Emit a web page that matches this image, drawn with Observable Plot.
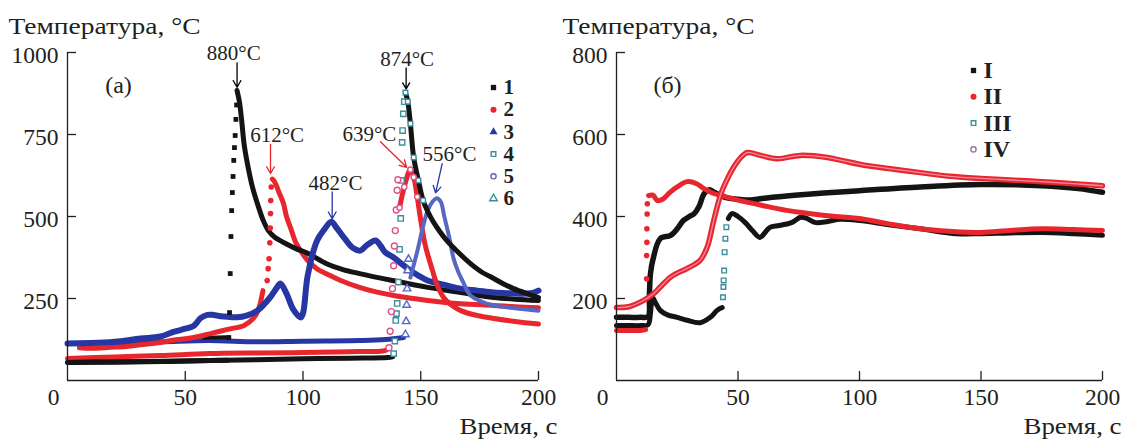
<!DOCTYPE html>
<html><head><meta charset="utf-8">
<script src="https://cdn.jsdelivr.net/npm/d3@7"></script>
<script src="https://cdn.jsdelivr.net/npm/@observablehq/plot@0.6"></script>
<style>
body{margin:0;background:#fff;}
#wrap{display:flex;width:1123px;height:440px;overflow:hidden;}
svg{display:block;}
</style></head><body><div id="wrap"></div>
<script>
// ---------- Panel (а): time (s), temperature (°C) ----------
const a1Base = [[0,55],[20,56],[40,58],[57,60],[68,62]];
const a1Pre = [[58,130],[68,132]];
const a1Jump = [[68.5,131],[68.8,207],[69.1,326],[69.4,439],[69.7,518],[70,573],[70.3,622],[70.6,671],[70.9,710],[71.2,747],[71.5,796],[71.8,840]];
const a1Fall = [[72,884],[73,850],[74,790],[75,720],[76.4,661],[78.6,588],[81.2,527],[83,490],[85.3,457],[88,437],[92,420],[97,402],[102,388],[110,356],[117,338],[124,326],[138,305],[153,284],[167,268],[181,253],[190,248],[200,244]];

const a2Rise = [[5,100],[10,98],[18,101],[25,104],[32,110],[39.5,116],[46,124],[53.5,131],[60.7,143],[68,156],[75,168],[79,190],[81,215],[83,274]];
const a2Jump = [[84.8,305],[85.2,341],[85.6,371],[85.9,420],[86.1,465],[86.2,509],[86.3,549],[86.5,590]];
const a2Fall = [[87,614],[88,605],[90,570],[91.7,540],[93,500],[94.7,466],[97,420],[100,385],[102,366],[106,340],[111,322],[116,305],[124,284],[131,270],[138.5,259],[146,251],[153,244],[167,234],[181,229],[190,225],[200,222]];

const a3 = [[0,113],[10,114],[20,118],[31,128],[39.5,134],[45,148],[50,158],[53.5,166],[56.5,190],[59.4,200],[62,200],[65,196],[68,194],[72,193],[76,198],[80.6,213],[86,253],[89,284],[90.4,296],[93,265],[96,215],[99,192],[100,205],[102,320],[106,427],[109,460],[112,484],[114.6,462],[118,430],[121,405],[124.4,396],[127,412],[130.8,427],[133,410],[135,390],[138.5,375],[142,355],[145.6,335],[149,320],[152.9,305],[161,290],[167,280],[174,274],[181,268],[188,266],[195,265],[198,268],[200,274]];

const a4Base = [[0,55],[20,57],[40,59],[60,61],[80,63],[100,66],[120,68],[136,70],[138,72]];
const a4Jump = [[138.5,82],[139,120],[139.4,183],[139.7,204],[140,235],[140.5,300],[141,400],[141.5,494],[141.8,610],[142.1,726],[142.3,762],[142.6,813],[143,850]];
const a4Fall = [[143.5,878],[144.5,850],[145.6,783],[147,680],[149,610],[151,549],[153,515],[155,488],[158,455],[161,427],[166,390],[171,357],[176,330],[181,311],[185,295],[189.4,280],[195,265],[200,253]];

const a5Base = [[0,67],[20,72],[39.5,76],[60,82],[80,84],[100,85],[120,88],[134,90],[136,95]];
const a5Jump = [[136.5,100],[137,150],[137.5,210],[138,280],[138.5,350],[138.8,410],[139.2,457],[139.6,520],[140,580],[140.3,612]];
const a5Fall = [[141,527],[143,590],[145.6,643],[147,620],[148.5,560],[150,488],[152,410],[155,335],[157,290],[159.7,253],[163,230],[167,213],[174,198],[181,189],[190,180],[200,172]];

const a6Base = [[0,113],[20,115],[40,118],[60,122],[80,118],[100,120],[124,122],[135,125],[142.7,131]];
const a6Jump = [[143.5,140],[143.8,180],[144,230],[144.2,280],[144.4,335],[144.8,370]];
const a6Fall = [[145.6,314],[148.6,396],[151,470],[153,520],[155,545],[156.8,556],[158.5,545],[160,500],[162,440],[164,370],[166,330],[168,300],[171,260],[176,240],[181,229],[190,220],[200,213]];

// ---------- Panel (б) ----------
const b1 = [[0,154],[5,154],[10,154],[13,156],[13.5,205],[14,262],[15,295],[18,346],[22.3,354],[25,370],[27.5,390],[30,400],[31.8,406],[34,425],[36,455],[38,465],[40,460],[45,446],[50,442],[55,440],[60,444],[70,450],[80,455],[92,460],[100,463],[125,472],[150,478],[175,475],[190,468],[200,459]];
const b2Base = [[0,122],[5,122],[10,122],[12,124]];
const b2Jump = [[12.4,248],[12.4,305],[12.5,337],[12.5,370],[12.6,406],[12.7,431]];
const b2 = [[13.2,451],[15,452],[16.8,439],[19,442],[22,459],[25,472],[29,485],[33,480],[36,468],[40,456],[45,448],[50,440],[60,427],[70,415],[80,407],[90,400],[100,395],[112,382],[125,370],[137,364],[150,361],[162,366],[175,370],[188,368],[200,366]];
const b3 = [[0,134],[5,134],[10,134],[13,136],[14,165],[14.8,203],[16,190],[18,171],[21,160],[25,154],[29,147],[34.4,141],[38.6,154],[41.4,171],[43.5,178]];
const b3Jump = [[43.8,203],[44,228],[44.1,244],[44.3,268],[44.5,313],[44.8,346],[45.2,374]];
const b3Tail = [[46,395],[47.6,407],[50,400],[53,385],[56,365],[59,349],[61,360],[63,373],[67,378],[72,385],[75.7,398],[78,396],[82,385],[87,388],[92,393],[100,390],[112,380],[125,370],[140,358],[150,358],[162,360],[175,361],[188,358],[200,354]];
const b4 = [[0,178],[5,180],[11,195],[15.3,212],[18,228],[22,251],[25,262],[29,273],[34.4,293],[37.3,325],[40,390],[43,456],[45.5,490],[48.2,520],[51,543],[53.9,556],[59.3,549],[66,541],[75.7,549],[86.8,544],[92.5,537],[100.4,527],[112,517],[125,507],[137,498],[150,493],[162,489],[175,485],[188,480],[200,475]];

// ---------- Annotations, legends, ticks, texts ----------
const peaksA = [
  {label:"880°C", lx:70.6, ly:977, x1:72, y1:968, x2:72, y2:894, color:"#000"},
  {label:"612°C", lx:89, ly:726, x1:86.2, y1:720, x2:86.2, y2:631, color:"#e8262d"},
  {label:"482°C", lx:113.8, ly:581, x1:112.4, y1:575, x2:112.4, y2:493, color:"#2636a3"},
  {label:"639°C", lx:128.2, ly:729, x1:132.9, y1:728, x2:144, y2:650, color:"#e8262d"},
  {label:"556°C", lx:162.2, ly:668, x1:159.1, y1:661, x2:156.3, y2:572, color:"#2636a3"},
  {label:"874°C", lx:144.2, ly:960, x1:143.8, y1:953, x2:143.8, y2:889, color:"#000"}
];
const legendA = ["1","2","3","4","5","6"];
const legendB = ["I","II","III","IV"];
const xTicks = [50,100,150,200];
const yTicksA = [250,500,750,1000];
const yTicksB = [200,400,600,800];
const yTitle = "Температура, °C";
const xTitle = "Время, с";
const panelA = "(а)", panelB = "(б)";

const C = {black:"#141414", red:"#e8262d", blue:"#2636a3", teal:"#3d8f9c", pink:"#e2508c", lblue:"#5668c4", ink:"#231f20", purple:"#a070b0"};
const FONT = "Liberation Serif, Times New Roman, serif";
const fmt = d => String(d);
const rows = arr => arr.map(([t, v]) => ({t, v}));
const L = (data, stroke, w = 5, extra = {}) => Plot.line(rows(data), {x:"t", y:"v", stroke, strokeWidth:w, strokeLinejoin:"round", strokeLinecap:"round", curve:"catmull-rom", ...extra});
const D = (data, symbol, opts) => Plot.dot(rows(data), {x:"t", y:"v", symbol, ...opts});

function frameMarks({yTicks, plotW, plotH, legend, legendStyle, legendDx, legendDy0, legendStep, legendFont, title, panel, titleDx}) {
  return [
    Plot.ruleX([0], {stroke:C.ink, strokeWidth:1.3}),
    Plot.ruleY([0], {stroke:C.ink, strokeWidth:1.3}),
    Plot.tickY(yTicks, {y:d=>d, insetRight:plotW - 9, stroke:C.ink, strokeWidth:1.3}),
    Plot.tickX(xTicks, {x:d=>d, insetTop:plotH - 9, stroke:C.ink, strokeWidth:1.3}),
    Plot.axisY({ticks:yTicks, tickFormat:fmt, tickSize:0, tickPadding:9, label:null, fontSize:23.5, dy:2.5, fill:C.ink}),
    Plot.axisX({ticks:xTicks, tickFormat:fmt, tickSize:0, tickPadding:8, label:null, fontSize:23.5, fill:C.ink}),
    Plot.axisX({ticks:[0], tickFormat:fmt, tickSize:0, tickPadding:8, label:null, fontSize:23.5, dx:-14, fill:C.ink}),
    Plot.text([title], {text:d=>d, frameAnchor:"top-left", dx:titleDx, dy:-19, textAnchor:"start", lineAnchor:"bottom", fontSize:23, fill:C.ink, className:"ytitle"}),
    Plot.text([xTitle], {text:d=>d, frameAnchor:"bottom-right", dx:19, dy:53, textAnchor:"end", lineAnchor:"bottom", fontSize:23, fill:C.ink, className:"xtitle"}),
    Plot.text([panel], {text:d=>d, frameAnchor:"top-left", dx:51, dy:33, textAnchor:"middle", lineAnchor:"middle", fontSize:24, fill:C.ink}),
    ...legend.map((lab, i) => Plot.dot([lab], {frameAnchor:"top-left", dx:legendDx, dy:legendDy0 + i * legendStep, r:3, ...legendStyle[i]})),
    ...legend.map((lab, i) => Plot.text([lab], {text:d=>d, frameAnchor:"top-left", dx:legendDx + 10, dy:legendDy0 + i * legendStep, textAnchor:"start", lineAnchor:"middle", fontSize:legendFont, fontWeight:"bold", fill:C.ink}))
  ];
}

const open = (stroke) => ({fill:"white", stroke, strokeWidth:1.4});

const plotA = Plot.plot({
  width:561, height:440, marginLeft:67, marginRight:23, marginTop:52, marginBottom:60,
  x:{domain:[0,200], axis:null}, y:{domain:[0,1000], axis:null},
  style:{fontFamily:FONT, background:"white", overflow:"visible"},
  marks:[
    L(a6Base, C.blue, 5),
    L(a5Base, C.red, 5),
    L(a4Base, C.black, 5),
    L(a1Base, C.black, 5),
    L(a1Pre, C.black, 4),
    L(a2Rise, C.red, 5),
    L(a2Fall, C.red, 5),
    L(a1Fall, C.black, 5),
    L(a3, C.blue, 6),
    D(a1Jump, "square", {fill:C.black, r:2.7}),
    D(a2Jump, "circle", {fill:C.red, r:2.8}),
    L(a5Fall, C.red, 5),
    L(a6Fall, C.lblue, 4),
    L(a4Fall, C.black, 5),
    D(a4Jump, "square", open(C.teal)),
    D(a4Fall.filter(p => p[0] < 152), "square", {...open(C.teal), r:2.6}),
    D(a5Jump, "circle", open(C.pink)),
    D(a5Fall.filter(p => p[0] < 150), "circle", {...open(C.pink), r:2.6}),
    D(a6Jump, "triangle", {...open(C.lblue), r:2.8}),
    Plot.arrow(peaksA, {x1:"x1", y1:"y1", x2:"x2", y2:"y2", stroke:"color", strokeWidth:1.3, headLength:9}),
    Plot.text(peaksA, {x:"lx", y:"ly", text:"label", textAnchor:"middle", lineAnchor:"bottom", fontSize:21, fill:C.ink}),
    ...frameMarks({yTicks:yTicksA, plotW:471, plotH:328, legend:legendA,
      legendStyle:[{symbol:"square", fill:C.black}, {symbol:"circle", fill:C.red}, {symbol:"triangle", fill:C.blue}, {symbol:"square", ...open(C.teal), r:2.6}, {symbol:"circle", ...open(C.lblue), r:2.6}, {symbol:"triangle", ...open(C.teal), r:2.8}],
      legendDx:426, legendDy0:35, legendStep:22.2, legendFont:21, title:yTitle, panel:panelA, titleDx:-59})
  ]
});

const plotB = Plot.plot({
  width:562, height:440, marginLeft:55, marginRight:21, marginTop:52, marginBottom:60,
  x:{domain:[0,200], axis:null}, y:{domain:[0,800], axis:null},
  style:{fontFamily:FONT, background:"white", overflow:"visible"},
  marks:[
    L(b3, C.black, 5),
    L(b3Tail, C.black, 5),
    D(b3Jump, "square", {...open(C.teal), r:2.6}),
    L(b1, C.black, 5.5),
    L(b2Base, C.red, 5),
    D(b2Jump, "circle", {fill:C.red, r:2.8}),
    L(b2, C.red, 5),
    L(b4, C.red, 5.5),
    L(b4, "#f48aa6", 1.3),
    ...frameMarks({yTicks:yTicksB, plotW:486, plotH:328, legend:legendB,
      legendStyle:[{symbol:"square", fill:C.black}, {symbol:"circle", fill:C.red}, {symbol:"square", ...open(C.teal), r:2.6}, {symbol:"circle", ...open(C.purple), r:2.6}],
      legendDx:357, legendDy0:18, legendStep:26.3, legendFont:24, title:yTitle, panel:panelB, titleDx:-54})
  ]
});

// stretch the axis titles horizontally to the wider face used in the original
for (const p of [plotA, plotB]) {
  d3.select(p).selectAll(".ytitle text").attr("textLength", 192).attr("lengthAdjust", "spacingAndGlyphs");
  d3.select(p).selectAll(".xtitle text").attr("textLength", 98).attr("lengthAdjust", "spacingAndGlyphs");
}

document.getElementById("wrap").append(plotA, plotB);
</script></body></html>
